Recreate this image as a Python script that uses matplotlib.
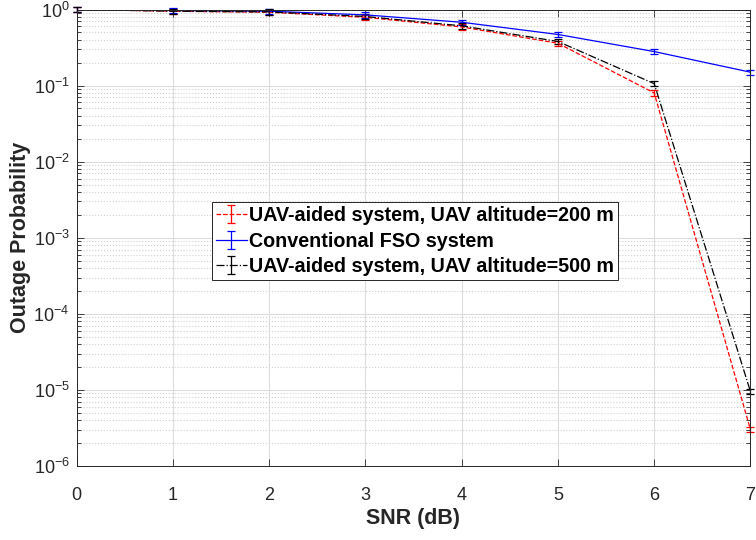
import matplotlib
matplotlib.use("Agg")
import matplotlib.pyplot as plt
import numpy as np
from matplotlib.ticker import LogLocator, NullFormatter, FixedLocator
from matplotlib.legend_handler import HandlerErrorbar
from matplotlib.container import ErrorbarContainer

plt.rcParams['font.family'] = ['Liberation Sans', 'DejaVu Sans']
plt.rcParams['mathtext.fontset'] = 'custom'
plt.rcParams['mathtext.rm'] = 'Liberation Sans'
plt.rcParams['mathtext.it'] = 'Liberation Sans:italic'
plt.rcParams['mathtext.bf'] = 'Liberation Sans:bold'

snr = [0, 1, 2, 3, 4, 5, 6, 7]
uav200 = [1.0, 0.95, 0.92, 0.79, 0.59, 0.36, 0.080, 3.0e-6]
conventional = [1.0, 0.97, 0.95, 0.85, 0.68, 0.47, 0.28, 0.15]
uav500 = [1.0, 0.95, 0.93, 0.81, 0.61, 0.38, 0.106, 9.5e-6]
err_frac = 0.08

labels = ["UAV-aided system, UAV altitude=200 m",
          "Conventional FSO system",
          "UAV-aided system, UAV altitude=500 m"]

fig = plt.figure(figsize=(7.56, 5.4), dpi=100)
ax = fig.add_axes([0.1012, 0.137, 0.8915, 0.8454])

series = [(uav200, 'red', '--'), (conventional, 'blue', '-'), (uav500, 'black', '-.')]
for (vals, col, ls), lab in zip(series, labels):
    v = np.array(vals)
    cont = ax.errorbar(snr, v, yerr=err_frac * v, color=col, linestyle=ls, linewidth=0.9,
                       elinewidth=0.9, capsize=3, capthick=0.9, label=lab)
    for art in cont.lines[1] + cont.lines[2]:
        art.set_clip_on(False)

ax.set_yscale('log')
ax.set_xlim(0, 7)
ax.set_ylim(1e-6, 1)
ax.xaxis.set_major_locator(FixedLocator(snr))
ax.yaxis.set_major_locator(LogLocator(base=10, numticks=10))
ax.yaxis.set_minor_locator(LogLocator(base=10, subs=np.arange(2, 10), numticks=20))
ax.yaxis.set_minor_formatter(NullFormatter())

ax.grid(True, which='major', color='#dcdcdc', linestyle='-', linewidth=0.8)
ax.grid(True, which='minor', axis='y', color='#d0d0d0', linestyle=':', linewidth=0.8)
ax.set_axisbelow(True)

ax.tick_params(which='both', direction='in', top=True, right=True, labelsize=13,
               colors='#262626', width=0.6)
ax.tick_params(which='major', length=5)
ax.tick_params(which='minor', length=3)
ax.tick_params(axis='x', pad=15)
ax.tick_params(axis='y', pad=5)
for sp in ax.spines.values():
    sp.set_color('#262626')
    sp.set_linewidth(0.7)

ax.set_xlabel('SNR (dB)', fontsize=15.5, fontweight='bold', color='#262626', labelpad=3)
ax.set_ylabel('Outage Probability', fontsize=15.5, fontweight='bold', color='#262626', labelpad=2)

leg = ax.legend(loc='upper left', bbox_to_anchor=(0.2006, 0.5777),
                prop={'weight': 'bold', 'size': 14.2}, frameon=True, fancybox=False,
                handlelength=1.6, handletextpad=0.1, borderpad=0.2, labelspacing=0.32,
                borderaxespad=0,
                handler_map={ErrorbarContainer: HandlerErrorbar(xerr_size=0.45)})
leg.get_frame().set_edgecolor('#262626')
leg.get_frame().set_linewidth(0.7)
leg.get_frame().set_alpha(1)

fig.savefig('out.png', dpi=100)
